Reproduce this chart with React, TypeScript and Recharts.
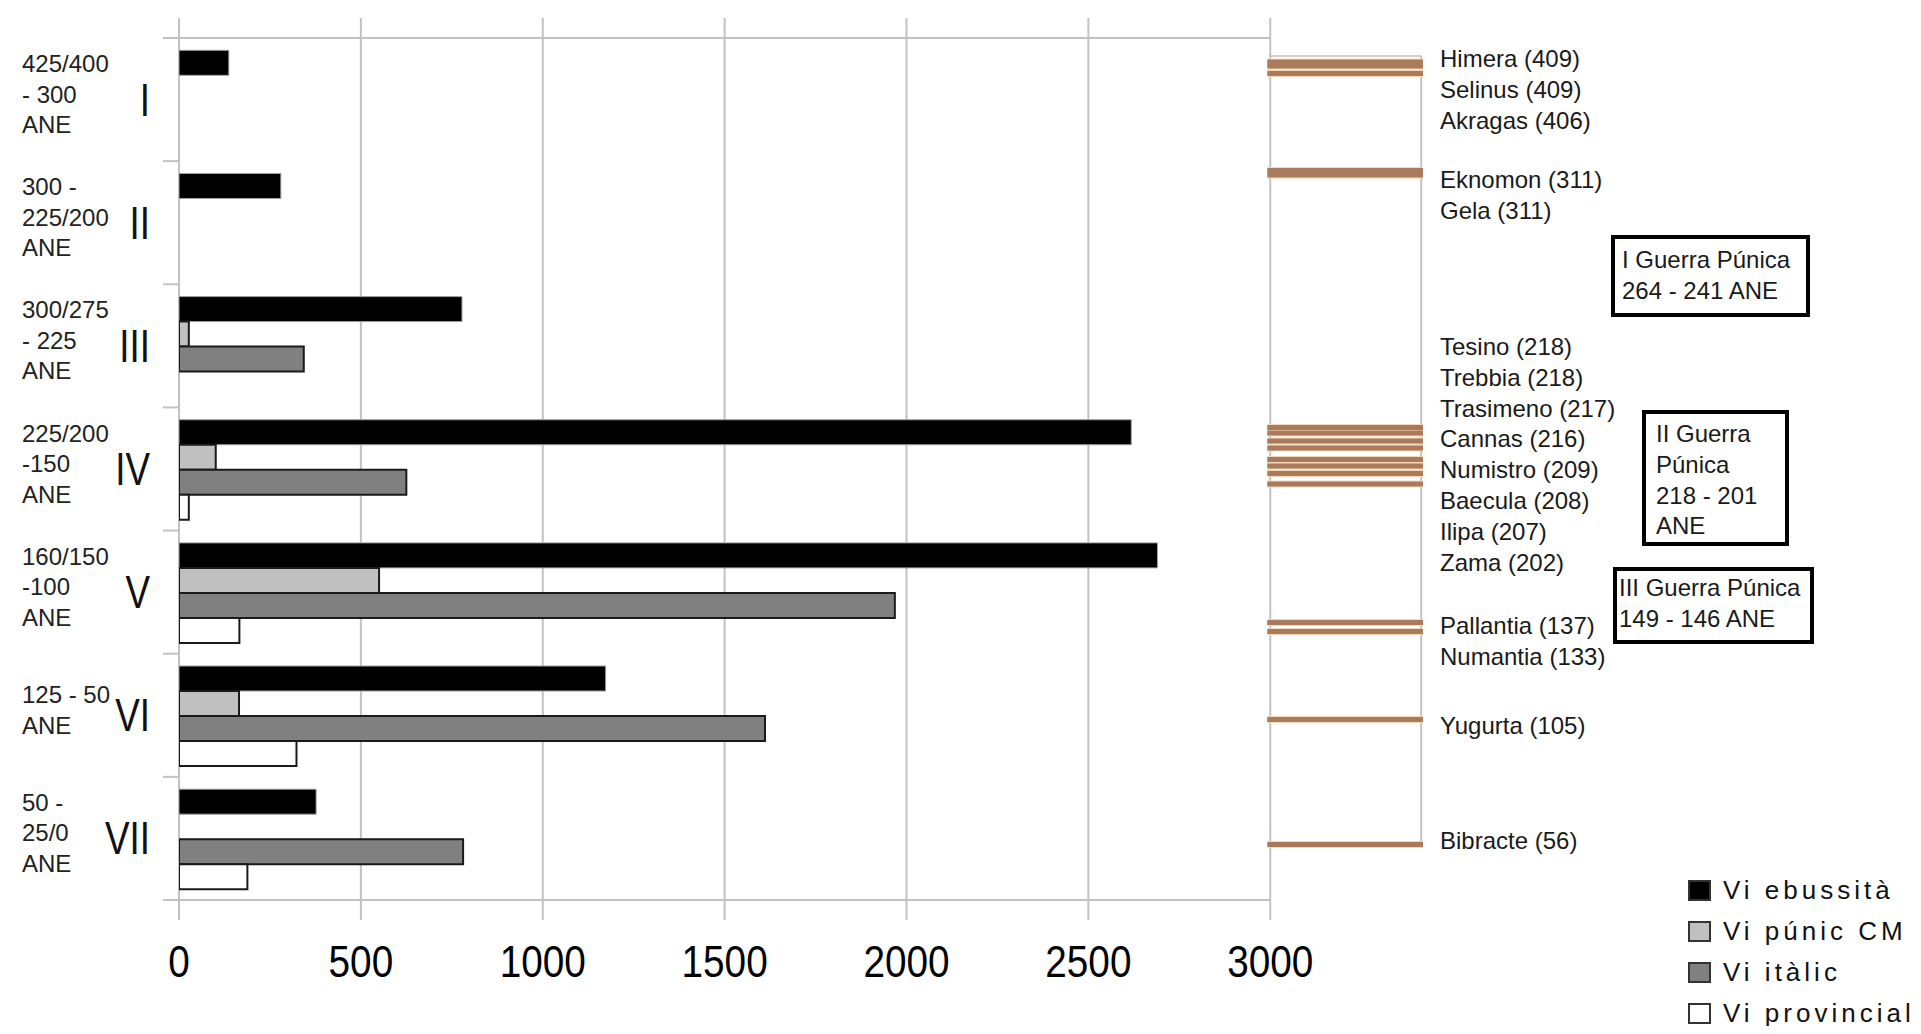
import React from 'react';
import {
  BarChart,
  Bar,
  XAxis,
  YAxis,
  CartesianGrid,
  Legend,
  ReferenceLine,
} from 'recharts';

const periods = ['I', 'II', 'III', 'IV', 'V', 'VI', 'VII'];
const periodDates = [
  ['425/400', '- 300', 'ANE'],
  ['300 -', '225/200', 'ANE'],
  ['300/275', '- 225', 'ANE'],
  ['225/200', '-150', 'ANE'],
  ['160/150', '-100', 'ANE'],
  ['125 - 50', 'ANE'],
  ['50 -', '25/0', 'ANE'],
];

const seriesNames = ['Vi ebussità', 'Vi púnic CM', 'Vi itàlic', 'Vi provincial'];
const viEbussita = [137, 280, 778, 2618, 2690, 1173, 377];
const viPunicCM = [0, 0, 27, 101, 550, 165, 0];
const viItalic = [0, 0, 343, 625, 1968, 1611, 781];
const viProvincial = [0, 0, 0, 27, 166, 323, 188];

const xTicks = [0, 500, 1000, 1500, 2000, 2500, 3000];

// battles: name, year ANE, place on the period timeline (0 = start of I, 7 = end of VII)
const battleNames = [
  'Himera', 'Selinus', 'Akragas', 'Eknomon', 'Gela', 'Tesino', 'Trebbia', 'Trasimeno',
  'Cannas', 'Numistro', 'Baecula', 'Ilipa', 'Zama', 'Pallantia', 'Numantia', 'Yugurta', 'Bibracte',
];
const battleYears = [409, 409, 406, 311, 311, 218, 218, 217, 216, 209, 208, 207, 202, 137, 133, 105, 56];
const battleTimeline = [
  0.195, 0.227, 0.288, 1.076, 1.113, 3.163, 3.208, 3.273, 3.33, 3.423, 3.476, 3.537, 3.622,
  4.747, 4.82, 5.534, 6.549,
];

const wars = [
  ['I Guerra Púnica', '264 - 241 ANE'],
  ['II Guerra', 'Púnica', '218 - 201', 'ANE'],
  ['III Guerra Púnica', '149 - 146 ANE'],
];

const FONT = '"Liberation Sans", Arial, sans-serif';
const GRID = '#c2c2c2';
const W = 1913;
const H = 1026;
const PLOT_LEFT = 171;
const PLOT_BOTTOM = 892;
const PLOT_RIGHT = 1415;
const X_MAX = 3420;

const rows = periods.map((period, i) => ({
  period,
  ebussita: viEbussita[i],
  punic: viPunicCM[i],
  italic: viItalic[i],
  provincial: viProvincial[i],
}));

const timelineTicks = [0, 0.5, 1, 1.5, 2, 2.5, 3, 3.5, 4, 4.5, 5, 5.5, 6, 6.5, 7];

const scaleOf = (axis: any, v: number) => {
  const s = axis.scale;
  return typeof s === 'function' ? s(v) : s.map(v);
};

const PeriodTick = (props: any) => {
  const { y, payload } = props;
  const v = payload.value as number;
  if (Number.isInteger(v)) {
    return <line x1={PLOT_LEFT - 16} x2={PLOT_LEFT} y1={y} y2={y} stroke={GRID} strokeWidth={2} />;
  }
  const i = Math.floor(v);
  const lines = periodDates[i];
  const n = lines.length;
  return (
    <g>
      <text fontSize={24} fill="#222" fontFamily={FONT}>
        {lines.map((l, k) => (
          <tspan key={k} x={14} y={y + 3 + (k - (n - 1) / 2) * 30.5}>
            {l}
          </tspan>
        ))}
      </text>
      <text
        transform={`translate(142, ${y + 16}) scale(0.8, 1)`}
        textAnchor="end"
        fontSize={46}
        fill="#111"
        fontFamily={FONT}
      >
        {periods[i]}
      </text>
    </g>
  );
};

const ValueTick = (props: any) => {
  const { x, payload } = props;
  return (
    <text
      transform={`translate(${x}, ${PLOT_BOTTOM + 77}) scale(0.88, 1)`}
      textAnchor="middle"
      fontSize={44}
      fill="#000"
      fontFamily={FONT}
    >
      {payload.value}
    </text>
  );
};

const LegendContent = (props: any) => {
  const items = [...(props.payload || [])].sort(
    (a: any, b: any) => seriesNames.indexOf(a.value) - seriesNames.indexOf(b.value),
  );
  return (
    <div style={{ fontFamily: FONT, fontSize: 26, letterSpacing: 4, color: '#111', whiteSpace: 'nowrap' }}>
      {items.map((e: any) => (
        <div key={e.value} style={{ display: 'flex', alignItems: 'center', height: 41 }}>
          <span
            style={{
              display: 'inline-block',
              width: 19,
              height: 17,
              background: e.color,
              border: '2px solid #333',
              marginRight: 12,
            }}
          />
          <span>{e.value}</span>
        </div>
      ))}
    </div>
  );
};

// battle label groups: how many names per block and baseline of its first line
const labelBlocks = [
  { count: 3, top: 59 },
  { count: 2, top: 180 },
  { count: 8, top: 347 },
  { count: 2, top: 626 },
  { count: 1, top: 726 },
  { count: 1, top: 841 },
];
const warBoxes = [
  { x: 1603, y: 227, w: 199, h: 82, tx: 1614, ty: 260 },
  { x: 1634, y: 402, w: 147, h: 136, tx: 1648, ty: 434 },
  { x: 1605, y: 559, w: 201, h: 77, tx: 1611, ty: 588 },
];

const Annotations = () => {
  let idx = 0;
  return (
    <svg
      width={W}
      height={H}
      style={{ position: 'absolute', left: 0, top: 0, pointerEvents: 'none' }}
    >
      {labelBlocks.map((b, bi) => {
        const items = [];
        for (let k = 0; k < b.count; k++) {
          const j = idx++;
          items.push(
            <text key={j} x={1432} y={b.top + k * 30.8} fontSize={24} fill="#1a1a1a" fontFamily={FONT}>
              {`${battleNames[j]} (${battleYears[j]})`}
            </text>,
          );
        }
        return <g key={bi}>{items}</g>;
      })}
      {warBoxes.map((b, i) => (
        <g key={i}>
          <rect x={b.x + 2} y={b.y + 2} width={b.w - 4} height={b.h - 4} fill="#fff" stroke="#000" strokeWidth={4} />
          {wars[i].map((l, k) => (
            <text key={k} x={b.tx} y={b.ty + k * 30.8} fontSize={24} fill="#1a1a1a" fontFamily={FONT}>
              {l}
            </text>
          ))}
        </g>
      ))}
    </svg>
  );
};

const App: React.FC = () => (
  <div
    style={{
      width: W,
      height: H,
      marginBottom: -8,
      position: 'relative',
      overflow: 'hidden',
      background: '#fff',
      fontFamily: FONT,
    }}
  >
    <BarChart
      width={W}
      height={H}
      data={rows}
      layout="vertical"
      barCategoryGap="10%"
      barGap={0}
      margin={{ top: 10, right: W - PLOT_RIGHT, bottom: 6, left: 0 }}
    >
      <CartesianGrid
        xAxisId="bottom"
        yAxisId="timeline"
        horizontal={false}
        verticalCoordinatesGenerator={({ xAxis }: any) => xTicks.map((t) => scaleOf(xAxis, t))}
        stroke={GRID}
        strokeWidth={2}
      />
      <XAxis
        xAxisId="top"
        orientation="top"
        type="number"
        domain={[0, X_MAX]}
        allowDataOverflow
        ticks={xTicks}
        height={20}
        tickSize={20}
        axisLine={false}
        tickLine={{ stroke: GRID, strokeWidth: 2 }}
        tick={() => <g />}
      />
      <XAxis
        xAxisId="bottom"
        orientation="bottom"
        type="number"
        domain={[0, X_MAX]}
        allowDataOverflow
        ticks={xTicks}
        height={H - 6 - PLOT_BOTTOM}
        tickSize={20}
        axisLine={false}
        tickLine={{ stroke: GRID, strokeWidth: 2 }}
        tick={ValueTick}
      />
      <YAxis yAxisId="cat" type="category" dataKey="period" hide />
      <YAxis
        yAxisId="timeline"
        type="number"
        dataKey="period"
        domain={[0, 7]}
        allowDataOverflow
        ticks={timelineTicks}
        interval={0}
        width={PLOT_LEFT}
        axisLine={false}
        tickLine={false}
        tick={PeriodTick}
      />
      <Legend
        layout="vertical"
        align="center"
        verticalAlign="middle"
        content={LegendContent}
        wrapperStyle={{ left: 1680, top: 862, width: 'auto', height: 'auto' }}
      />
      <ReferenceLine xAxisId="bottom" yAxisId="timeline" segment={[{ x: 0, y: 0 }, { x: 3000, y: 0 }]} stroke={GRID} strokeWidth={2} />
      <ReferenceLine xAxisId="bottom" yAxisId="timeline" segment={[{ x: 0, y: 7 }, { x: 3000, y: 7 }]} stroke={GRID} strokeWidth={2} />
      <ReferenceLine xAxisId="bottom" yAxisId="timeline" segment={[{ x: 3000, y: 0.146 }, { x: 3415, y: 0.146 }]} stroke={GRID} strokeWidth={1.5} />
      <ReferenceLine xAxisId="bottom" yAxisId="timeline" segment={[{ x: 3415, y: 0.146 }, { x: 3415, y: 6.578 }]} stroke={GRID} strokeWidth={2} />
      {battleTimeline.map((t, i) => (
        <ReferenceLine
          key={`halo-${i}`}
          xAxisId="bottom"
          yAxisId="timeline"
          segment={[{ x: 2992, y: t }, { x: X_MAX, y: t }]}
          stroke="#f4d8b9"
          strokeWidth={7}
        />
      ))}
      {battleTimeline.map((t, i) => (
        <ReferenceLine
          key={`battle-${i}`}
          xAxisId="bottom"
          yAxisId="timeline"
          segment={[{ x: 2992, y: t }, { x: X_MAX, y: t }]}
          stroke="#a97b5c"
          strokeWidth={5}
        />
      ))}
      <Bar xAxisId="bottom" yAxisId="cat" dataKey="ebussita" name={seriesNames[0]} fill="#000000" stroke="#a0a0a0" strokeWidth={1} isAnimationActive={false} />
      <Bar xAxisId="bottom" yAxisId="cat" dataKey="punic" name={seriesNames[1]} fill="#c0c0c0" stroke="#1a1a1a" strokeWidth={2} isAnimationActive={false} />
      <Bar xAxisId="bottom" yAxisId="cat" dataKey="italic" name={seriesNames[2]} fill="#808080" stroke="#1a1a1a" strokeWidth={2} isAnimationActive={false} />
      <Bar xAxisId="bottom" yAxisId="cat" dataKey="provincial" name={seriesNames[3]} fill="#ffffff" stroke="#1a1a1a" strokeWidth={2} isAnimationActive={false} />
    </BarChart>
    <Annotations />
  </div>
);

export default App;
